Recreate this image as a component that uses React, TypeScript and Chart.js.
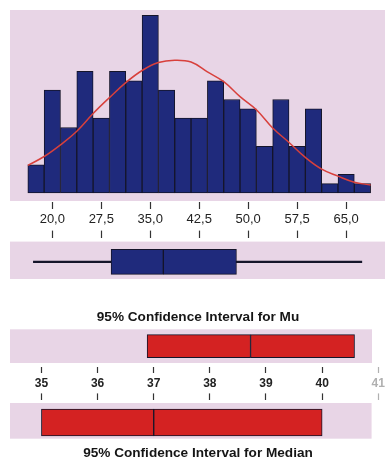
import { useEffect, useRef } from 'react';
import { Chart, registerables } from 'chart.js';

Chart.register(...registerables);

// Histogram bins (width 2.5) — midpoints and counts
const BIN_MIDS = [17.5, 20, 22.5, 25, 27.5, 30, 32.5, 35, 37.5, 40, 42.5, 45, 47.5, 50, 52.5, 55, 57.5, 60, 62.5, 65, 67.5];
const BIN_COUNTS = [3, 11, 7, 13, 8, 13, 12, 19, 11, 8, 8, 12, 10, 9, 5, 10, 5, 9, 1, 2, 1];

// Fitted normal curve, sampled at the bin edges
const CURVE_X = [16.25, 18.75, 21.25, 23.75, 26.25, 28.75, 31.25, 33.75, 36.25, 38.75, 41.25, 43.75, 46.25, 48.75, 51.25, 53.75, 56.25, 58.75, 61.25, 63.75, 66.25, 68.75];
const CURVE_Y = [2.95, 3.9, 5.15, 6.6, 8.5, 10.2, 11.8, 13.1, 13.95, 14.2, 14.0, 12.95, 11.9, 10.3, 8.9, 6.95, 5.4, 3.8, 2.55, 1.8, 1.15, 0.85];

const HIST_TICKS = [20, 27.5, 35, 42.5, 50, 57.5, 65];

// Boxplot: min, Q1, median, Q3, max
const BOX_SUMMARY = [17.1, 29.0, 37.0, 48.2, 67.4];

// 95% confidence intervals: lower, estimate, upper
const MU_CI = [36.88, 38.72, 40.57];
const MEDIAN_CI = [35.0, 37.0, 40.0];
const CI_TICKS = [35, 36, 37, 38, 39, 40, 41];

const MU_TITLE = '95% Confidence Interval for Mu';
const MEDIAN_TITLE = '95% Confidence Interval for Median';

// Styling
const FONT = "'Liberation Sans', Arial, Helvetica, sans-serif";
const PANEL = '#e8d5e6';
const NAVY = '#1f2a7c';
const EDGE = '#15152a';
const CURVE = '#d8403c';
const CI_RED = '#d42222';
const TEXT = '#222222';
const TICK = '#333333';
const FADED = '#b0b0b0';

// Shared value range of the histogram / boxplot axis and of the CI axis
const DATA_AXIS = { min: 13.52, max: 70.95 };
const CI_AXIS = { min: 34.44, max: 41.13 };

// Fills a shaded panel behind the plot area, with optional insets
const panelFill = {
  id: 'panelFill',
  beforeDraw(chart: any, _args: any, opts: any) {
    const { ctx, chartArea: a } = chart;
    const ins = opts.inset || {};
    const l = ins.left || 0, r = ins.right || 0, t = ins.top || 0, b = ins.bottom || 0;
    ctx.save();
    ctx.fillStyle = opts.color || PANEL;
    ctx.fillRect(a.left + l, a.top + t, a.right - a.left - l - r, a.bottom - a.top - t - b);
    ctx.restore();
  },
};

const quiet = {
  legend: { display: false },
  tooltip: { enabled: false },
};

const fmtComma = (v: number) => v.toFixed(1).replace('.', ',');
const isFaded = (c: any) => !!(c.tick && c.tick.value === 41);

// A linear axis whose ticks sit exactly on the given values
function tickAxis(range: { min: number; max: number }, ticks: number[], tickLength: number, weight: number, labels: any) {
  return {
    type: 'linear',
    axis: 'x',
    position: 'top',
    weight,
    min: range.min,
    max: range.max,
    offset: false,
    afterBuildTicks: (scale: any) => {
      scale.ticks = ticks.map((value) => ({ value }));
    },
    ticks: labels,
    grid: {
      offset: false,
      drawOnChartArea: false,
      drawTicks: true,
      tickLength,
      tickWidth: 1.2,
      tickColor: (c: any) => (isFaded(c) ? FADED : TICK),
    },
    border: { display: false },
  };
}

export default function App() {
  const histRef = useRef<HTMLCanvasElement>(null);
  const boxRef = useRef<HTMLCanvasElement>(null);
  const muRef = useRef<HTMLCanvasElement>(null);
  const medRef = useRef<HTMLCanvasElement>(null);

  useEffect(() => {
    const charts: Chart[] = [];

    // Histogram with fitted normal curve
    charts.push(
      new Chart(histRef.current as HTMLCanvasElement, {
        type: 'bar',
        data: {
          datasets: [
            {
              type: 'line',
              data: CURVE_X.map((x, i) => ({ x, y: CURVE_Y[i] })),
              borderColor: CURVE,
              borderWidth: 1.5,
              pointRadius: 0,
              tension: 0.4,
              fill: false,
              order: 0,
            } as any,
            {
              type: 'bar',
              data: BIN_MIDS.map((x, i) => ({ x, y: BIN_COUNTS[i] })),
              backgroundColor: NAVY,
              borderColor: EDGE,
              borderWidth: 1,
              borderSkipped: false,
              barPercentage: 1,
              categoryPercentage: 1,
              order: 1,
            } as any,
          ],
        },
        options: {
          responsive: false,
          animation: false,
          events: [],
          layout: { padding: { top: 10, left: 10, right: 3, bottom: 1 } },
          plugins: { ...quiet, panelFill: { color: PANEL } } as any,
          scales: {
            x: { type: 'linear', display: false, min: DATA_AXIS.min, max: DATA_AXIS.max, offset: false },
            y: { display: false, min: -0.86, max: 19.57 },
          },
        },
        plugins: [panelFill],
      })
    );

    // Value axis (tick / label / tick) and boxplot
    charts.push(
      new Chart(boxRef.current as HTMLCanvasElement, {
        type: 'bar',
        data: {
          labels: [''],
          datasets: [
            {
              data: [[BOX_SUMMARY[1], BOX_SUMMARY[2]]],
              backgroundColor: NAVY,
              borderColor: EDGE,
              borderWidth: 1,
              borderSkipped: false,
              barThickness: 25,
              grouped: false,
              order: 0,
            } as any,
            {
              data: [[BOX_SUMMARY[2], BOX_SUMMARY[3]]],
              backgroundColor: NAVY,
              borderColor: EDGE,
              borderWidth: 1,
              borderSkipped: false,
              barThickness: 25,
              grouped: false,
              order: 0,
            } as any,
            {
              data: [[BOX_SUMMARY[0], BOX_SUMMARY[4]]],
              backgroundColor: EDGE,
              borderWidth: 0,
              barThickness: 1.5,
              grouped: false,
              order: 1,
            } as any,
          ],
        },
        options: {
          indexAxis: 'y',
          responsive: false,
          animation: false,
          events: [],
          layout: { padding: { top: 0, left: 10, right: 3, bottom: 0 } },
          plugins: { ...quiet, panelFill: { color: PANEL, inset: { top: 4, bottom: 7 } } } as any,
          scales: {
            x: tickAxis(DATA_AXIS, HIST_TICKS, 7, 0, {
              callback: (v: any) => fmtComma(Number(v)),
              font: { family: FONT, size: 13 },
              color: TEXT,
              padding: 3,
              maxRotation: 0,
              autoSkip: false,
            }) as any,
            x2: tickAxis(DATA_AXIS, HIST_TICKS, 7, 1, { display: false }) as any,
            y: { display: false },
          },
        },
        plugins: [panelFill],
      })
    );

    const ciBoxes = (ci: number[], thickness: number) =>
      [[ci[0], ci[1]], [ci[1], ci[2]]].map((span) => ({
        data: [span],
        backgroundColor: CI_RED,
        borderColor: EDGE,
        borderWidth: 1,
        borderSkipped: false,
        barThickness: thickness,
        grouped: false,
      })) as any[];

    const titleFont = { family: FONT, size: 13.6, weight: 'bold' };

    // Confidence interval for the mean
    charts.push(
      new Chart(muRef.current as HTMLCanvasElement, {
        type: 'bar',
        data: { labels: [''], datasets: ciBoxes(MU_CI, 23) },
        options: {
          indexAxis: 'y',
          responsive: false,
          animation: false,
          events: [],
          layout: { padding: { top: 0, left: 10, right: 2, bottom: 0 } },
          plugins: {
            ...quiet,
            title: {
              display: true,
              text: MU_TITLE,
              font: titleFont,
              color: '#151515',
              padding: { top: 19, bottom: 1 },
            },
            panelFill: { color: PANEL, inset: { top: 3, bottom: 3, right: 14 } },
          } as any,
          scales: {
            x: { type: 'linear', display: false, min: CI_AXIS.min, max: CI_AXIS.max },
            y: { display: false },
          },
        },
        plugins: [panelFill],
      })
    );

    // CI axis (tick / label / tick) and confidence interval for the median
    charts.push(
      new Chart(medRef.current as HTMLCanvasElement, {
        type: 'bar',
        data: { labels: [''], datasets: ciBoxes(MEDIAN_CI, 27) },
        options: {
          indexAxis: 'y',
          responsive: false,
          animation: false,
          events: [],
          layout: { padding: { top: 0, left: 10, right: 2, bottom: 0 } },
          plugins: {
            ...quiet,
            title: {
              display: true,
              position: 'bottom',
              text: MEDIAN_TITLE,
              font: titleFont,
              color: '#151515',
              padding: { top: 0, bottom: 0 },
            },
            panelFill: { color: PANEL, inset: { top: 2.6, bottom: 6, right: 14 } },
          } as any,
          scales: {
            x: tickAxis(CI_AXIS, CI_TICKS, 7, 0, {
              font: { family: FONT, size: 12, weight: 'bold' },
              color: (c: any) => (isFaded(c) ? FADED : TEXT),
              padding: 3,
              maxRotation: 0,
              autoSkip: false,
            }) as any,
            x2: tickAxis(CI_AXIS, CI_TICKS, 6, 1, { display: false }) as any,
            y: { display: false },
          },
        },
        plugins: [panelFill],
      })
    );

    return () => charts.forEach((c) => c.destroy());
  }, []);

  const canvasStyle = (top: number, height: number): React.CSSProperties => ({
    position: 'absolute',
    left: 0,
    top,
    width: 388,
    height,
    display: 'block',
  });

  return (
    <div
      style={{
        position: 'fixed',
        left: 0,
        top: 0,
        width: 388,
        height: 457,
        overflow: 'hidden',
        background: '#ffffff',
      }}
    >
      <canvas ref={histRef} width={388} height={202} style={canvasStyle(0, 202)} />
      <canvas ref={boxRef} width={388} height={84} style={canvasStyle(202, 84)} />
      <canvas ref={muRef} width={388} height={76} style={canvasStyle(290, 76)} />
      <canvas ref={medRef} width={388} height={94} style={canvasStyle(367, 94)} />
    </div>
  );
}
